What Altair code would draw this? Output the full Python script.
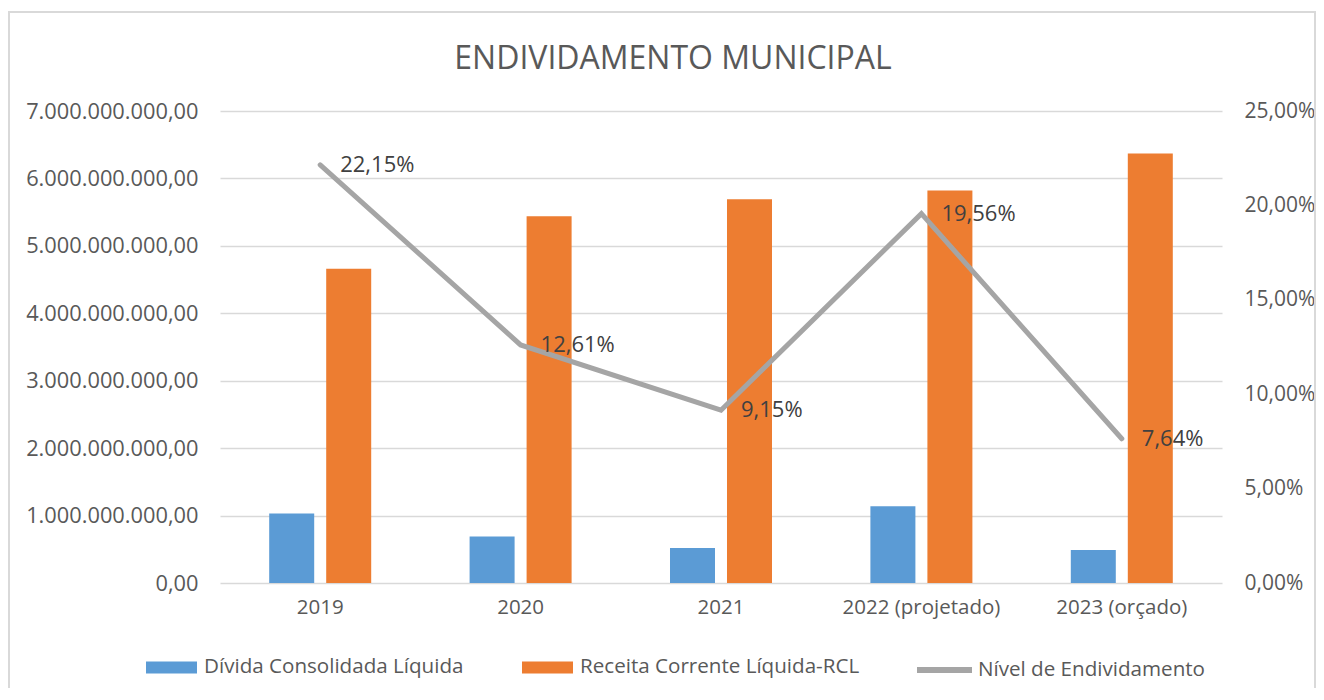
import altair as alt
import pandas as pd

anos = ["2019", "2020", "2021", "2022 (projetado)", "2023 (orçado)"]
divida = [1.03e9, 0.69e9, 0.52e9, 1.14e9, 0.49e9]
rcl = [4.66e9, 5.44e9, 5.69e9, 5.82e9, 6.37e9]
nivel = [0.2215, 0.1261, 0.0915, 0.1956, 0.0764]

s_div = "Dívida Consolidada Líquida"
s_rcl = "Receita Corrente Líquida-RCL"
s_niv = "Nível de Endividamento"

bars_df = pd.DataFrame(
    {"ano": anos * 2, "serie": [s_div] * 5 + [s_rcl] * 5, "valor": divida + rcl}
)
line_df = pd.DataFrame({"ano": anos, "nivel": nivel, "serie": [s_niv] * 5})
frame_df = pd.DataFrame({"a": [0]})

FONT = "Open Sans"
GRAY = "#595959"

xenc = alt.X(
    "ano:N",
    sort=anos,
    scale=alt.Scale(paddingInner=0.491, paddingOuter=0.2455),
    axis=alt.Axis(
        title=None, labelAngle=0, domain=False, ticks=False, grid=False,
        labelPadding=14, labelFontSize=20.5, labelColor=GRAY, labelFont=FONT,
    ),
)

bars = alt.Chart(bars_df).mark_bar().encode(
    x=xenc,
    xOffset=alt.XOffset("serie:N", sort=[s_div, s_rcl],
                        scale=alt.Scale(paddingInner=0.2105, paddingOuter=0)),
    y=alt.Y(
        "valor:Q",
        scale=alt.Scale(domain=[0, 7e9], nice=False),
        axis=alt.Axis(
            title=None, format=",.2f", values=[i * 1e9 for i in range(8)],
            domain=False, ticks=False, labelPadding=22, labelFontSize=21.8,
            labelColor=GRAY, labelFont=FONT, grid=True, gridColor="#D9D9D9",
            gridWidth=1.5,
        ),
    ),
    color=alt.Color(
        "serie:N",
        scale=alt.Scale(domain=[s_div, s_rcl], range=["#5B9BD5", "#ED7D31"]),
        legend=alt.Legend(
            title=None, orient="none", direction="horizontal",
            legendX=-74, legendY=530.5,
            symbolType="M-1,-0.235L1,-0.235L1,0.235L-1,0.235Z", symbolSize=2601,
            symbolStrokeWidth=0, labelFontSize=20.6, labelColor=GRAY,
            labelFont=FONT, labelOffset=7, columnPadding=58, labelLimit=500,
        ),
    ),
)

ynivel = alt.Y(
    "nivel:Q",
    scale=alt.Scale(domain=[0, 0.25], nice=False),
    axis=alt.Axis(
        title=None, orient="right", format=".2%",
        values=[0, 0.05, 0.10, 0.15, 0.20, 0.25], domain=False, ticks=False,
        grid=False, labelPadding=22, labelFontSize=21, labelColor=GRAY,
        labelFont=FONT,
    ),
)

line = alt.Chart(line_df).mark_line(strokeWidth=5, strokeCap="round").encode(
    x=alt.X("ano:N", sort=anos),
    y=ynivel,
    stroke=alt.Stroke(
        "serie:N",
        scale=alt.Scale(domain=[s_niv], range=["#A5A5A5"]),
        legend=alt.Legend(
            title=None, orient="none", direction="horizontal",
            legendX=694, legendY=528.5, symbolType="stroke", symbolSize=3025,
            symbolStrokeWidth=6, labelFontSize=20.6, labelColor=GRAY,
            labelFont=FONT, labelOffset=3, labelLimit=500,
        ),
    ),
)

labels = alt.Chart(line_df).mark_text(
    align="left", baseline="middle", dx=20, dy=0, fontSize=22,
    font=FONT, color="#404040",
).encode(
    x=alt.X("ano:N", sort=anos),
    y=ynivel,
    text=alt.Text("nivel:Q", format=".2%"),
)

frame = alt.Chart(frame_df).mark_rect(
    fill="transparent", stroke="#D9D9D9", strokeWidth=2
).encode(
    x=alt.value(-211), x2=alt.value(1095), y=alt.value(-99), y2=alt.value(620)
)

right = alt.layer(line, labels)

chart = (
    alt.layer(frame, bars, right)
    .resolve_scale(y="independent")
    .properties(
        width=1002,
        height=472,
        autosize=alt.AutoSizeParams(type="none"),
        padding={"left": 212, "top": 103, "right": 94, "bottom": 105},
        title=alt.TitleParams(
            "ENDIVIDAMENTO MUNICIPAL", anchor="middle", fontSize=32,
            font=FONT, color=GRAY, fontWeight="normal", offset=-65, dx=-48,
            frame="group",
        ),
    )
    .configure_view(strokeWidth=0, stroke="transparent")
)

chart.save(
    "out.html",
    embed_options={
        "renderer": "svg",
        "actions": False,
        "formatLocale": {
            "decimal": ",",
            "thousands": ".",
            "grouping": [3],
            "currency": ["R$", ""],
        },
    },
)
